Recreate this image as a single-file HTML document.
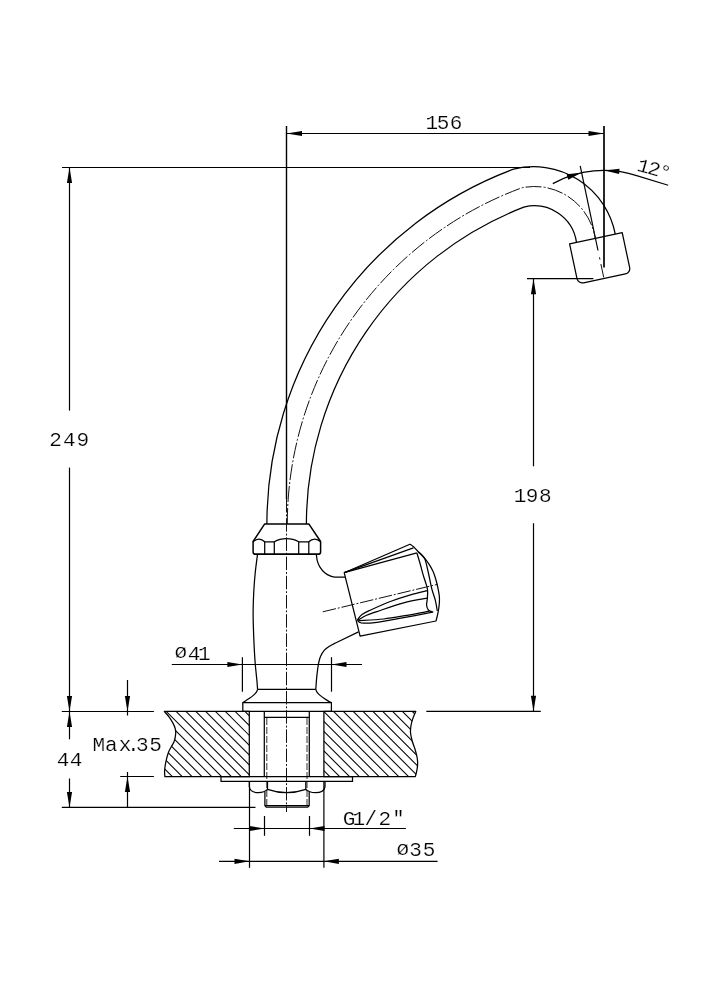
<!DOCTYPE html>
<html><head><meta charset="utf-8"><title>Faucet drawing</title>
<style>
html,body{margin:0;padding:0;background:#fff;}
body{width:707px;height:1000px;overflow:hidden;}
svg{display:block;filter:grayscale(1);}
.o{stroke:#000;stroke-width:1.25;fill:none;stroke-linejoin:round;}
.d{stroke:#000;stroke-width:1.2;fill:none;}
.d2{stroke:#000;stroke-width:1.7;fill:none;}
.d3{stroke:#000;stroke-width:1.4;fill:none;}
.h{stroke:#000;stroke-width:1.05;fill:none;}
.c{stroke:#111;stroke-width:1;fill:none;stroke-dasharray:13.5 1.9 1.9 1.9;}
.c0{stroke:#111;stroke-width:1;fill:none;}
.th{stroke:#333;stroke-width:1;fill:none;stroke-dasharray:7 2;}
.a{fill:#000;stroke:none;}
.t{font-family:"Liberation Mono",monospace;fill:#000;stroke:#fff;stroke-width:0.2;}
</style></head>
<body>
<svg width="707" height="1000" viewBox="0 0 707 1000">
<rect width="707" height="1000" fill="#fff"/>
<g id="dimension-lines">
<line class="d3" x1="286.50" y1="126.00" x2="286.50" y2="499.00"/>
<line class="d2" x1="604.00" y1="126.00" x2="604.00" y2="267.50"/>
<line class="d" x1="286.50" y1="133.50" x2="604.00" y2="133.50"/>
<polygon class="a" points="286.50,133.50 302.00,130.90 302.00,136.10"/>
<polygon class="a" points="604.00,133.50 588.50,136.10 588.50,130.90"/>
<line class="d" x1="62.00" y1="167.50" x2="530.00" y2="167.50"/>
<line class="d" x1="61.80" y1="711.50" x2="153.90" y2="711.50"/>
<line class="d" x1="69.50" y1="167.50" x2="69.50" y2="410.60"/>
<line class="d" x1="69.50" y1="467.60" x2="69.50" y2="711.50"/>
<polygon class="a" points="69.50,167.50 72.10,183.00 66.90,183.00"/>
<polygon class="a" points="69.50,711.50 66.90,696.00 72.10,696.00"/>
<line class="d" x1="527.00" y1="278.70" x2="593.40" y2="278.70"/>
<line class="d" x1="426.30" y1="711.30" x2="540.80" y2="711.30"/>
<line class="d" x1="533.50" y1="278.70" x2="533.50" y2="466.30"/>
<line class="d" x1="533.50" y1="523.20" x2="533.50" y2="711.30"/>
<polygon class="a" points="533.50,278.70 536.10,294.20 530.90,294.20"/>
<polygon class="a" points="533.50,711.30 530.90,695.80 536.10,695.80"/>
<line class="d" x1="69.50" y1="711.50" x2="69.50" y2="739.30"/>
<line class="d" x1="69.50" y1="778.50" x2="69.50" y2="807.50"/>
<polygon class="a" points="69.50,711.50 72.10,727.00 66.90,727.00"/>
<polygon class="a" points="69.50,807.50 66.90,792.00 72.10,792.00"/>
<line class="d" x1="61.80" y1="807.40" x2="255.50" y2="807.40"/>
<line class="d" x1="127.50" y1="680.00" x2="127.50" y2="715.50"/>
<line class="d" x1="127.50" y1="772.00" x2="127.50" y2="807.40"/>
<polygon class="a" points="127.50,711.50 124.90,696.00 130.10,696.00"/>
<polygon class="a" points="127.50,776.50 130.10,792.00 124.90,792.00"/>
<line class="d" x1="120.20" y1="776.50" x2="153.90" y2="776.50"/>
<line class="d" x1="171.80" y1="664.50" x2="362.00" y2="664.50"/>
<polygon class="a" points="242.40,664.50 227.40,667.10 227.40,661.90"/>
<polygon class="a" points="331.50,664.50 346.50,661.90 346.50,667.10"/>
<line class="d" x1="242.40" y1="657.20" x2="242.40" y2="691.70"/>
<line class="d" x1="331.50" y1="657.20" x2="331.50" y2="691.70"/>
<line class="d" x1="233.80" y1="828.50" x2="405.90" y2="828.50"/>
<polygon class="a" points="264.50,828.50 249.50,831.10 249.50,825.90"/>
<polygon class="a" points="309.50,828.50 324.50,825.90 324.50,831.10"/>
<line class="d" x1="264.50" y1="816.00" x2="264.50" y2="835.80"/>
<line class="d" x1="309.50" y1="816.00" x2="309.50" y2="835.80"/>
<line class="d" x1="219.00" y1="861.30" x2="437.60" y2="861.30"/>
<polygon class="a" points="249.50,861.30 234.50,863.90 234.50,858.70"/>
<polygon class="a" points="323.90,861.30 338.90,858.70 338.90,863.90"/>
<line class="d" x1="249.50" y1="781.40" x2="249.50" y2="867.80"/>
<line class="d" x1="323.90" y1="781.40" x2="323.90" y2="867.80"/>
<path class="d" d="M552.80,183.64 A105.6,105.6 0 0 1 636.63,175.57 L668.19,185.22" />
<line class="d" x1="580.20" y1="165.80" x2="598.00" y2="250.50"/>
<line class="c0" x1="599.48" y1="257.30" x2="599.97" y2="259.60"/>
<line class="c0" x1="600.89" y1="264.00" x2="603.70" y2="277.30"/>
<polygon class="a" points="581.32,172.86 568.23,179.69 566.63,174.32"/>
<polygon class="a" points="604.37,170.40 619.51,168.85 619.15,174.04"/>
</g>
<g id="dimension-labels">
<text class="t" transform="translate(0.00 128.80) scale(1.08 1)" font-size="19.5" x="394.03 404.40 416.56">156</text>
<text class="t" transform="translate(0.00 445.90) scale(1.08 1)" font-size="19.5" x="45.70 58.29 70.84">249</text>
<text class="t" transform="translate(0.00 501.60) scale(1.08 1)" font-size="19.5" x="475.65 486.86 499.14">198</text>
<text class="t" transform="translate(0.00 765.90) scale(1.08 1)" font-size="19.5" x="52.46 64.59">44</text>
<text class="t" transform="translate(0.00 750.80) scale(1.08 1)" font-size="19.5" x="85.56 97.30 109.91 117.64 125.88 138.29">Max.35</text>
<text class="t" transform="translate(0.00 659.80) scale(1.08 1)" font-size="19.5" x="161.64 173.85 183.43" dy="-1.5 1.5 0">ø41</text>
<text class="t" transform="translate(0.00 824.50) scale(1.08 1)" font-size="19.5" x="317.34 326.48 337.46 350.38 361.04 365.11">G1/2''</text>
<text class="t" transform="translate(0.00 856.20) scale(1.08 1)" font-size="19.5" x="367.06 378.89 391.49" dy="-1.5 1.5 0">ø35</text>
<text class="t" transform="translate(642.40 172.20) rotate(15.5) scale(1.08 1)" font-size="19.5" x="-6.06 3.94 14.31">12°</text>
</g>
<g id="spout">
<path class="o" d="M266.90,523.90 A378.9,378.9 0 0 1 513.59,169.11 A83.3,83.3 0 0 1 615.27,234.09" />
<path class="o" d="M306.40,523.90 A339.9,339.9 0 0 1 523.79,207.15 A42.5,42.5 0 0 1 576.48,242.34" />
<path class="c" d="M287.30,523.90 A358.5,358.5 0 0 1 521.81,187.82 A61.5,61.5 0 0 1 595.24,238.35" style="stroke-dasharray:16 2 2 2"/>
<path class="o" d="M569.60,243.80 L622.22,232.61 L629.63,267.44 A5.5,5.5 0 0 1 625.39,273.96 L583.52,282.86 A5.5,5.5 0 0 1 577.00,278.62 Z" />
</g>
<g id="body">
<path class="o" d="M264.7,523.9 H308.8 L320.6,541.5 V552 Q320.6,554.2 318.5,554.2 H255.2 Q253.1,554.2 253.1,552 V541.5 Z" style="stroke-width:1.5"/>
<line class="o" x1="254.00" y1="554.20" x2="319.70" y2="554.20"/>
<path class="o" d="M253.1,541.8 C255,540 257,539 259,539 C261,539 263,540 264.7,541.8 H274.3 C277,540.2 281,538.6 286.5,538.6 C292,538.6 296,540.2 298.7,541.8 H308.8 C310.5,540 312.5,539 314.7,539 C317,539 318.8,540 320.6,541.8" />
<line class="o" x1="264.70" y1="541.80" x2="264.70" y2="554.20"/>
<line class="o" x1="274.30" y1="541.80" x2="274.30" y2="554.20"/>
<line class="o" x1="298.70" y1="541.80" x2="298.70" y2="554.20"/>
<line class="o" x1="308.80" y1="541.80" x2="308.80" y2="554.20"/>
<path class="o" d="M257.50,554.40 C257.12,557.42 255.88,566.23 255.25,572.50 C254.62,578.77 254.10,585.75 253.75,592.00 C253.40,598.25 253.22,604.50 253.15,610.00 C253.08,615.50 253.12,618.75 253.30,625.00 C253.48,631.25 253.88,641.00 254.20,647.50 C254.52,654.00 254.82,658.75 255.25,664.00 C255.68,669.25 256.36,674.78 256.75,679.00 C257.14,683.22 257.46,687.58 257.60,689.30 " />
<path class="o" d="M316.30,554.40 C316.47,555.47 316.72,558.73 317.30,560.80 C317.88,562.87 318.56,564.82 319.80,566.80 C321.04,568.78 322.93,571.13 324.75,572.70 C326.57,574.27 328.89,575.45 330.70,576.20 C332.51,576.95 334.78,577.03 335.60,577.20 L345.3,577.2" />
<path class="o" d="M358.5,631.9 L336,642.7 L336.00,642.70 C334.83,643.33 330.93,645.25 329.00,646.50 C327.07,647.75 325.80,648.57 324.40,650.20 C323.00,651.83 321.57,654.13 320.60,656.30 C319.63,658.47 319.22,660.02 318.60,663.20 C317.98,666.38 317.37,671.05 316.90,675.40 C316.43,679.75 315.98,686.98 315.80,689.30 " />
<line class="o" x1="257.60" y1="689.30" x2="315.80" y2="689.30"/>
<path class="o" d="M257.60,689.30 C257.40,689.77 257.07,691.13 256.40,692.10 C255.73,693.07 254.82,694.03 253.60,695.10 C252.38,696.17 250.63,697.42 249.10,698.50 C247.57,699.58 245.45,700.92 244.40,701.60 C243.35,702.28 243.07,702.43 242.80,702.60 V711.3 H331.4 V702.6 L331.40,702.60 C331.03,702.43 330.38,702.28 329.20,701.60 C328.02,700.92 325.87,699.58 324.30,698.50 C322.73,697.42 321.02,696.17 319.80,695.10 C318.58,694.03 317.67,693.07 317.00,692.10 C316.33,691.13 316.00,689.77 315.80,689.30 " />
<line class="o" x1="242.80" y1="702.60" x2="331.40" y2="702.60"/>
</g>
<g id="handle">
<path class="o" d="M344.2,572.7 L409.9,544.2 L409.90,544.20 C410.50,544.63 411.85,545.28 413.50,546.80 C415.15,548.32 417.82,551.25 419.80,553.30 C421.78,555.35 423.77,557.12 425.40,559.10 C427.03,561.08 428.30,563.08 429.60,565.20 C430.90,567.32 432.13,569.33 433.20,571.80 C434.27,574.27 435.18,577.17 436.00,580.00 C436.82,582.83 437.55,586.13 438.10,588.80 C438.65,591.47 439.08,593.80 439.30,596.00 C439.52,598.20 439.52,599.75 439.40,602.00 C439.28,604.25 438.93,607.25 438.60,609.50 C438.27,611.75 437.83,613.58 437.40,615.50 C436.97,617.42 436.23,620.08 436.00,621.00 L360.1,636.2 Z" />
<line class="o" x1="344.20" y1="572.70" x2="413.40" y2="547.80"/>
<line class="o" x1="344.20" y1="572.70" x2="416.90" y2="552.90"/>
<path class="o" d="M416.90,552.90 C417.45,554.75 419.13,560.25 420.20,564.00 C421.27,567.75 422.40,572.32 423.30,575.40 C424.20,578.48 424.90,580.15 425.60,582.50 C426.30,584.85 427.20,586.92 427.50,589.50 C427.80,592.08 427.55,595.37 427.40,598.00 C427.25,600.63 426.40,603.27 426.60,605.30 C426.80,607.33 427.48,609.05 428.60,610.20 C429.72,611.35 432.52,611.87 433.30,612.20 " />
<path class="o" d="M418.50,552.00 C419.52,553.10 422.95,555.10 424.60,558.60 C426.25,562.10 427.20,567.97 428.40,573.00 C429.60,578.03 430.65,584.27 431.80,588.80 C432.95,593.33 434.38,596.50 435.30,600.20 C436.22,603.90 436.97,609.20 437.30,611.00 " />
<path class="o" d="M357.30,619.80 C358.08,618.92 359.85,616.10 362.00,614.50 C364.15,612.90 365.48,612.37 370.20,610.20 C374.92,608.03 383.58,604.07 390.30,601.50 C397.02,598.93 404.33,596.60 410.50,594.80 C416.67,593.00 424.50,591.38 427.30,590.70 " />
<path class="o" d="M358.00,620.20 C359.33,619.42 362.85,616.93 366.00,615.50 C369.15,614.07 370.62,613.72 376.90,611.60 C383.18,609.48 395.30,605.05 403.70,602.80 C412.10,600.55 423.37,598.88 427.30,598.10 " />
<path class="o" d="M357.30,620.20 C357.67,620.55 358.48,621.80 359.50,622.30 C360.52,622.80 360.50,623.20 363.40,623.20 C366.30,623.20 370.18,623.23 376.90,622.30 C383.62,621.37 394.43,619.28 403.70,617.60 C412.97,615.92 427.70,613.10 432.50,612.20 " />
<path class="o" d="M358.50,620.60 C362.68,620.33 375.52,619.88 383.60,619.00 C391.68,618.12 399.38,616.60 407.00,615.30 C414.62,614.00 425.58,611.88 429.30,611.20 " />
<line class="c" x1="322.80" y1="611.80" x2="437.50" y2="584.30"/>
</g>
<g id="countertop-and-mounting">
<clipPath id="cl"><path d="M249.3,711.4 L164.30,711.40 C165.08,712.30 167.60,714.93 169.00,716.80 C170.40,718.67 171.67,720.65 172.70,722.60 C173.73,724.55 174.70,726.68 175.20,728.50 C175.70,730.32 175.85,731.42 175.70,733.50 C175.55,735.58 175.03,738.78 174.30,741.00 C173.57,743.22 172.28,744.88 171.30,746.80 C170.32,748.72 169.32,749.93 168.40,752.50 C167.48,755.07 166.43,759.17 165.80,762.20 C165.17,765.23 164.75,768.28 164.60,770.70 C164.45,773.12 164.85,775.70 164.90,776.70 H249.3 Z"/></clipPath><clipPath id="cr"><path d="M323.9,711.4 L415.80,711.40 C415.32,712.57 413.70,716.05 412.90,718.40 C412.10,720.75 411.40,723.15 411.00,725.50 C410.60,727.85 410.30,729.92 410.50,732.50 C410.70,735.08 411.43,738.17 412.20,741.00 C412.97,743.83 414.27,746.67 415.10,749.50 C415.93,752.33 416.78,755.40 417.20,758.00 C417.62,760.60 417.72,762.75 417.60,765.10 C417.48,767.45 416.88,770.17 416.50,772.10 C416.12,774.03 415.50,775.93 415.30,776.70 H323.9 Z"/></clipPath>
<g clip-path="url(#cl)">
<line class="h" x1="95.36" y1="709.40" x2="164.66" y2="778.70"/>
<line class="h" x1="105.20" y1="709.40" x2="174.50" y2="778.70"/>
<line class="h" x1="115.04" y1="709.40" x2="184.34" y2="778.70"/>
<line class="h" x1="124.88" y1="709.40" x2="194.18" y2="778.70"/>
<line class="h" x1="134.72" y1="709.40" x2="204.02" y2="778.70"/>
<line class="h" x1="144.56" y1="709.40" x2="213.86" y2="778.70"/>
<line class="h" x1="154.40" y1="709.40" x2="223.70" y2="778.70"/>
<line class="h" x1="164.24" y1="709.40" x2="233.54" y2="778.70"/>
<line class="h" x1="174.08" y1="709.40" x2="243.38" y2="778.70"/>
<line class="h" x1="183.92" y1="709.40" x2="253.22" y2="778.70"/>
<line class="h" x1="193.76" y1="709.40" x2="263.06" y2="778.70"/>
<line class="h" x1="203.60" y1="709.40" x2="272.90" y2="778.70"/>
<line class="h" x1="213.44" y1="709.40" x2="282.74" y2="778.70"/>
<line class="h" x1="223.28" y1="709.40" x2="292.58" y2="778.70"/>
<line class="h" x1="233.12" y1="709.40" x2="302.42" y2="778.70"/>
<line class="h" x1="242.96" y1="709.40" x2="312.26" y2="778.70"/>
<line class="h" x1="252.80" y1="709.40" x2="322.10" y2="778.70"/>
</g>
<g clip-path="url(#cr)">
<line class="h" x1="252.80" y1="709.40" x2="322.10" y2="778.70"/>
<line class="h" x1="262.64" y1="709.40" x2="331.94" y2="778.70"/>
<line class="h" x1="272.48" y1="709.40" x2="341.78" y2="778.70"/>
<line class="h" x1="282.32" y1="709.40" x2="351.62" y2="778.70"/>
<line class="h" x1="292.16" y1="709.40" x2="361.46" y2="778.70"/>
<line class="h" x1="302.00" y1="709.40" x2="371.30" y2="778.70"/>
<line class="h" x1="311.84" y1="709.40" x2="381.14" y2="778.70"/>
<line class="h" x1="321.68" y1="709.40" x2="390.98" y2="778.70"/>
<line class="h" x1="331.52" y1="709.40" x2="400.82" y2="778.70"/>
<line class="h" x1="341.36" y1="709.40" x2="410.66" y2="778.70"/>
<line class="h" x1="351.20" y1="709.40" x2="420.50" y2="778.70"/>
<line class="h" x1="361.04" y1="709.40" x2="430.34" y2="778.70"/>
<line class="h" x1="370.88" y1="709.40" x2="440.18" y2="778.70"/>
<line class="h" x1="380.72" y1="709.40" x2="450.02" y2="778.70"/>
<line class="h" x1="390.56" y1="709.40" x2="459.86" y2="778.70"/>
<line class="h" x1="400.40" y1="709.40" x2="469.70" y2="778.70"/>
<line class="h" x1="410.24" y1="709.40" x2="479.54" y2="778.70"/>
<line class="h" x1="420.08" y1="709.40" x2="489.38" y2="778.70"/>
</g>
<path class="o" d="M249.3,711.4 L164.30,711.40 C165.08,712.30 167.60,714.93 169.00,716.80 C170.40,718.67 171.67,720.65 172.70,722.60 C173.73,724.55 174.70,726.68 175.20,728.50 C175.70,730.32 175.85,731.42 175.70,733.50 C175.55,735.58 175.03,738.78 174.30,741.00 C173.57,743.22 172.28,744.88 171.30,746.80 C170.32,748.72 169.32,749.93 168.40,752.50 C167.48,755.07 166.43,759.17 165.80,762.20 C165.17,765.23 164.75,768.28 164.60,770.70 C164.45,773.12 164.85,775.70 164.90,776.70 H249.3 Z" />
<path class="o" d="M323.9,711.4 L415.80,711.40 C415.32,712.57 413.70,716.05 412.90,718.40 C412.10,720.75 411.40,723.15 411.00,725.50 C410.60,727.85 410.30,729.92 410.50,732.50 C410.70,735.08 411.43,738.17 412.20,741.00 C412.97,743.83 414.27,746.67 415.10,749.50 C415.93,752.33 416.78,755.40 417.20,758.00 C417.62,760.60 417.72,762.75 417.60,765.10 C417.48,767.45 416.88,770.17 416.50,772.10 C416.12,774.03 415.50,775.93 415.30,776.70 H323.9 Z" />
<line class="o" x1="264.30" y1="711.30" x2="264.30" y2="776.50"/>
<line class="o" x1="309.30" y1="711.30" x2="309.30" y2="776.50"/>
<line class="o" x1="264.30" y1="717.40" x2="309.30" y2="717.40"/>
<line class="th" x1="266.80" y1="718.00" x2="266.80" y2="806.00"/>
<line class="th" x1="307.00" y1="718.00" x2="307.00" y2="806.00"/>
<path class="o" d="M221,776.5 H352.5 V781.4 H221 Z" />
<path class="o" d="M249.3,781.4 V786.8 Q250,792.6 258.3,792.7 Q264.5,792.6 267.5,789.4 Q286.5,796 305.8,789.4 Q309,792.6 315.5,792.7 Q324,792.6 325.0,786.8 V781.4" />
<line class="o" x1="267.50" y1="781.40" x2="267.50" y2="789.40"/>
<line class="o" x1="305.80" y1="781.40" x2="305.80" y2="789.40"/>
<path class="o" d="M264.9,792 V805.6 L266.2,807.2 H307.6 L309.2,805.6 V792" />
<line class="o" x1="264.90" y1="805.60" x2="309.20" y2="805.60"/>
<line class="c" x1="286.50" y1="499.00" x2="286.50" y2="812.00"/>
</g>
</svg>
</body></html>
